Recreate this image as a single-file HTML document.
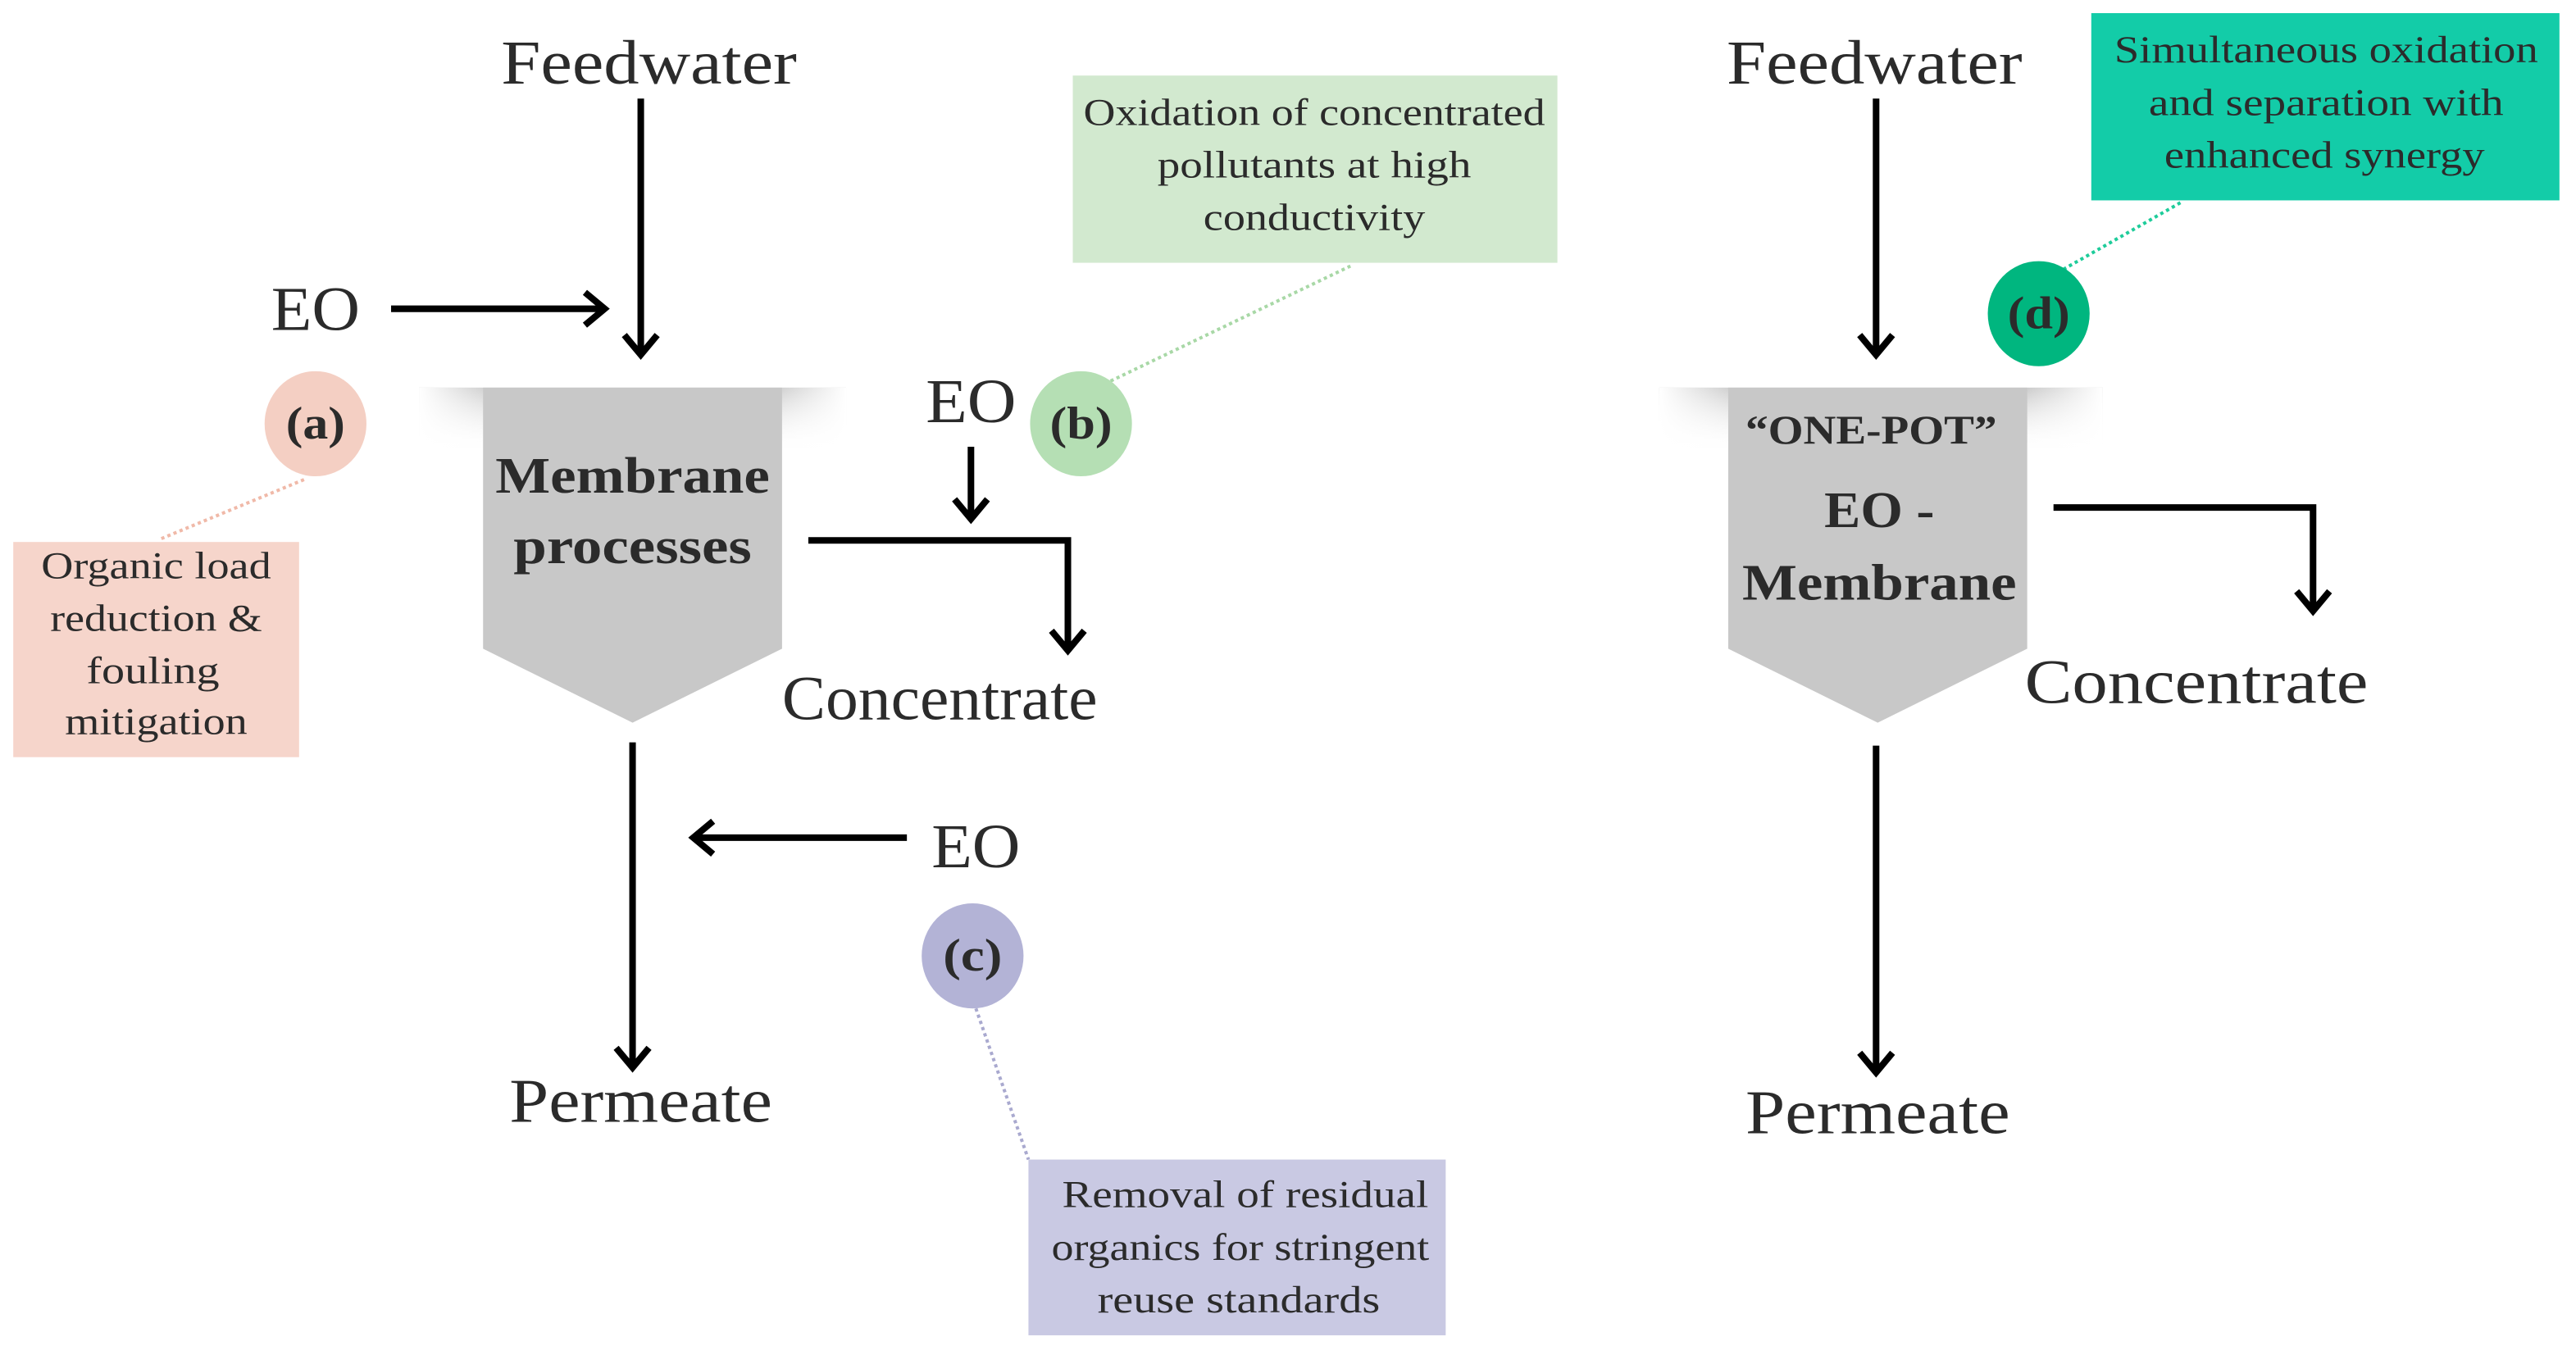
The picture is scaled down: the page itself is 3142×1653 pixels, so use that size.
<!DOCTYPE html>
<html><head><meta charset="utf-8"><style>
html,body{margin:0;padding:0;background:#fff;}
svg{display:block;}
text{font-family:"Liberation Serif",serif;fill:#2b2b2b;}
</style></head><body>
<svg width="3142" height="1653" viewBox="0 0 1568 825" xmlns="http://www.w3.org/2000/svg">
<defs>
<linearGradient id="sh" x1="0" y1="0" x2="0" y2="1">
<stop offset="0" stop-color="#9a9a9a" stop-opacity="0.6"/><stop offset="1" stop-color="#fff" stop-opacity="0"/>
</linearGradient>
<linearGradient id="shx" x1="0" y1="0" x2="1" y2="0">
<stop offset="0" stop-color="#fff" stop-opacity="1"/><stop offset="0.2" stop-color="#fff" stop-opacity="0"/><stop offset="0.8" stop-color="#fff" stop-opacity="0"/><stop offset="1" stop-color="#fff" stop-opacity="1"/>
</linearGradient>
</defs>
<g stroke="#000" stroke-width="4" fill="none" stroke-linecap="butt">
<line x1="390" y1="60" x2="390" y2="216"/><polyline points="380,204 390,216 400,204"/>
<line x1="238" y1="188" x2="368" y2="188"/><polyline points="356,178 368,188 356,198"/>
<line x1="591" y1="272" x2="591" y2="316"/><polyline points="581,304 591,316 601,304"/>
<polyline points="492,329 650,329 650,396"/><polyline points="640,384 650,396 660,384"/>
<line x1="385" y1="452" x2="385" y2="650"/><polyline points="375,638 385,650 395,638"/>
<line x1="552" y1="510" x2="422" y2="510"/><polyline points="434,500 422,510 434,520"/>
<line x1="1142" y1="60" x2="1142" y2="216"/><polyline points="1132,204 1142,216 1152,204"/>
<polyline points="1250,309 1408,309 1408,372"/><polyline points="1398,360 1408,372 1418,360"/>
<line x1="1142" y1="454" x2="1142" y2="653"/><polyline points="1132,641 1142,653 1152,641"/>
</g>
<rect x="255" y="236" width="260" height="40" fill="url(#sh)"/>
<rect x="255" y="236" width="260" height="40" fill="url(#shx)"/>
<rect x="1010" y="236" width="270" height="40" fill="url(#sh)"/>
<rect x="1010" y="236" width="270" height="40" fill="url(#shx)"/>
<polygon points="294,236 476,236 476,395 385,440 294,395" fill="#c8c8c8"/>
<polygon points="1052,236 1234,236 1234,395 1143,440 1052,395" fill="#c8c8c8"/>
<g stroke-width="2" stroke-dasharray="2,2" fill="none">
<line x1="185" y1="292" x2="98" y2="328" stroke="#f0b9a8"/>
<line x1="676" y1="232" x2="822" y2="162" stroke="#a8d8a6"/>
<line x1="594" y1="614" x2="626" y2="706" stroke="#a9a9cf"/>
<line x1="1256" y1="164" x2="1328" y2="123" stroke="#1ecc9a"/>
</g>
<rect x="8" y="330" width="174" height="131" fill="#f6d5cb"/>
<rect x="653" y="46" width="295" height="114" fill="#d2e9cf"/>
<rect x="626" y="706" width="254" height="107" fill="#c9c9e3"/>
<rect x="1273" y="8" width="285" height="114" fill="#13cca8"/>
<ellipse cx="192" cy="258" rx="31" ry="32" fill="#f4cfc3"/>
<ellipse cx="658" cy="258" rx="31" ry="32" fill="#b5dfb4"/>
<ellipse cx="592" cy="582" rx="31" ry="32" fill="#b3b3d6"/>
<ellipse cx="1241" cy="191" rx="31" ry="32" fill="#00b67f"/>
<g font-weight="bold" font-size="28" text-anchor="middle" lengthAdjust="spacingAndGlyphs">
<text x="192" y="267" textLength="36" lengthAdjust="spacingAndGlyphs">(a)</text>
<text x="658" y="267" textLength="38" lengthAdjust="spacingAndGlyphs">(b)</text>
<text x="592" y="591" textLength="36" lengthAdjust="spacingAndGlyphs">(c)</text>
<text x="1241" y="200" textLength="38" lengthAdjust="spacingAndGlyphs">(d)</text>
</g>
<g font-size="38" text-anchor="middle">
<text x="395" y="51" textLength="180" lengthAdjust="spacingAndGlyphs">Feedwater</text>
<text x="192" y="201" textLength="54" lengthAdjust="spacingAndGlyphs">EO</text>
<text x="591" y="257" textLength="55" lengthAdjust="spacingAndGlyphs">EO</text>
<text x="572" y="438" textLength="192" lengthAdjust="spacingAndGlyphs">Concentrate</text>
<text x="594" y="528" textLength="54" lengthAdjust="spacingAndGlyphs">EO</text>
<text x="390" y="683" textLength="160" lengthAdjust="spacingAndGlyphs">Permeate</text>
<text x="1141" y="51" textLength="180" lengthAdjust="spacingAndGlyphs">Feedwater</text>
<text x="1337" y="428" textLength="209" lengthAdjust="spacingAndGlyphs">Concentrate</text>
<text x="1143" y="690" textLength="161" lengthAdjust="spacingAndGlyphs">Permeate</text>
</g>
<g font-weight="bold" text-anchor="middle">
<text x="385" y="300" font-size="31" textLength="167" lengthAdjust="spacingAndGlyphs">Membrane</text>
<text x="385" y="343" font-size="31" textLength="145" lengthAdjust="spacingAndGlyphs">processes</text>
<text x="1139" y="270" font-size="25" textLength="153" lengthAdjust="spacingAndGlyphs">“ONE-POT”</text>
<text x="1144" y="321" font-size="31" textLength="67" lengthAdjust="spacingAndGlyphs">EO -</text>
<text x="1144" y="365" font-size="31" textLength="167" lengthAdjust="spacingAndGlyphs">Membrane</text>
</g>
<g font-size="23" text-anchor="middle">
<text x="95" y="352" textLength="140" lengthAdjust="spacingAndGlyphs">Organic load</text>
<text x="95" y="384" textLength="129" lengthAdjust="spacingAndGlyphs">reduction &amp;</text>
<text x="93" y="416" textLength="81" lengthAdjust="spacingAndGlyphs">fouling</text>
<text x="95" y="447" textLength="111" lengthAdjust="spacingAndGlyphs">mitigation</text>
<text x="800" y="76" textLength="281" lengthAdjust="spacingAndGlyphs">Oxidation of concentrated</text>
<text x="800" y="108" textLength="191" lengthAdjust="spacingAndGlyphs">pollutants at high</text>
<text x="800" y="140" textLength="135" lengthAdjust="spacingAndGlyphs">conductivity</text>
<text x="758" y="735" textLength="223" lengthAdjust="spacingAndGlyphs">Removal of residual</text>
<text x="755" y="767" textLength="230" lengthAdjust="spacingAndGlyphs">organics for stringent</text>
<text x="754" y="799" textLength="172" lengthAdjust="spacingAndGlyphs">reuse standards</text>
<text x="1416" y="38" textLength="258" lengthAdjust="spacingAndGlyphs">Simultaneous oxidation</text>
<text x="1416" y="70" textLength="216" lengthAdjust="spacingAndGlyphs">and separation with</text>
<text x="1415" y="102" textLength="195" lengthAdjust="spacingAndGlyphs">enhanced synergy</text>
</g>
</svg>
</body></html>
